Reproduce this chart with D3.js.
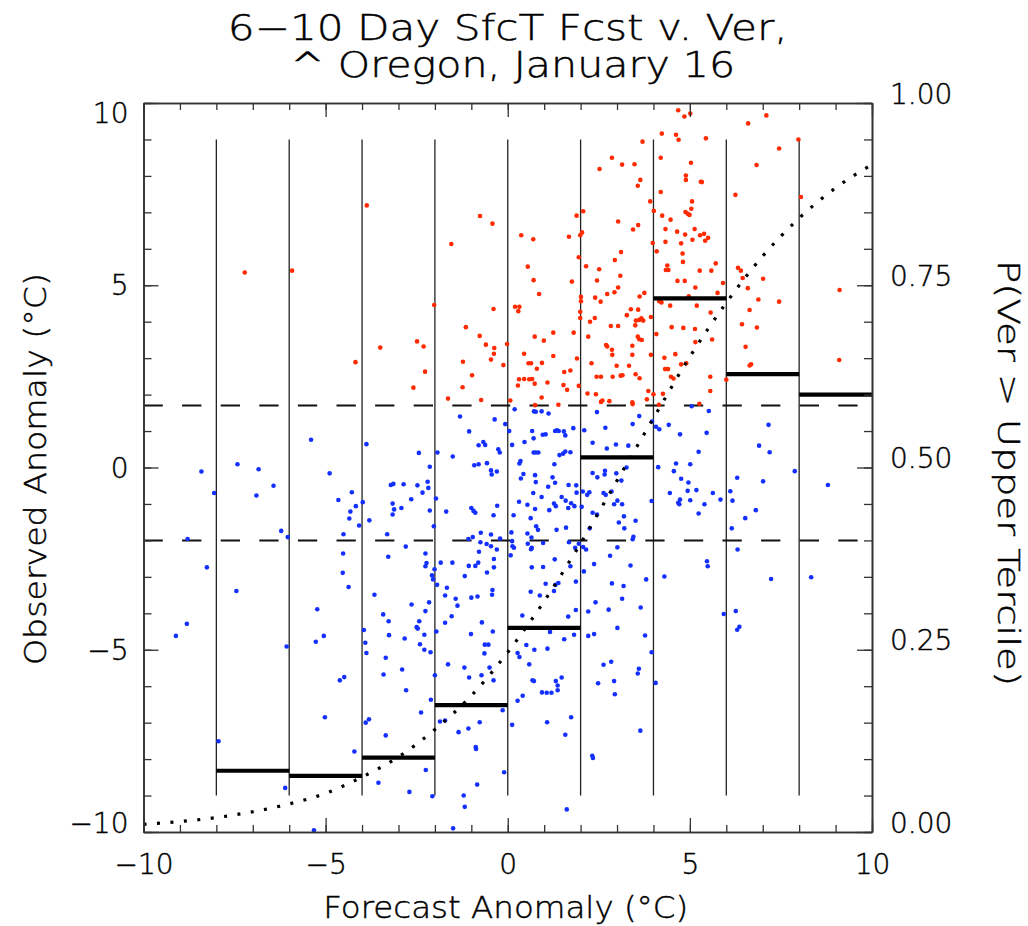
<!DOCTYPE html>
<html>
<head>
<meta charset="utf-8">
<script src="https://cdn.jsdelivr.net/npm/d3@7"></script>
<style>
  html, body { margin: 0; padding: 0; background: #fff; }
  svg text { font-family: "DejaVu Sans", sans-serif; font-weight: 200; fill: #000; stroke: #000; stroke-width: 0.45px; }
</style>
</head>
<body>
<svg id="chart" width="1028" height="926"></svg>
<script>
// Observations above the upper tercile (forecast anomaly, observed anomaly), °C
const warmObs = [
  [-7.22,5.35],[-5.92,5.40],[-3.87,7.19],[-4.18,2.89],[-3.50,3.29],[-0.76,6.90],[-0.42,6.69],[-1.55,6.13],
  [-2.02,4.46],[-0.39,4.35],[-1.15,3.85],[-0.77,3.61],[-2.49,3.46],[-2.31,3.32],[-0.60,3.37],[-0.37,3.28],
  [-0.38,3.12],[-0.02,3.39],[-0.46,2.96],[-1.23,2.90],[-0.12,2.81],[-2.27,2.63],[-0.98,2.53],[-2.59,2.19],
  [-1.24,2.20],[-1.64,1.89],[-0.73,1.85],
  [4.68,9.80],[4.85,9.63],[5.01,9.71],[7.10,9.66],[6.60,9.44],[4.23,9.16],[4.62,9.13],[4.69,8.99],[5.44,9.03],
  [3.70,8.94],[7.45,8.75],[7.98,9.00],[6.83,8.30],[4.20,8.50],[2.86,8.50],[2.52,8.19],[3.14,8.31],[3.48,8.32],
  [5.03,8.36],[4.89,8.01],[4.89,7.89],[3.64,7.89],[3.57,7.73],[5.30,7.84],[5.33,7.83],[4.20,7.56],[6.25,7.48],
  [8.05,7.42],[3.91,7.30],[4.01,7.04],[5.06,7.30],[5.04,7.10],[4.88,7.01],[4.94,6.96],[4.99,6.93],[4.24,6.91],
  [4.47,6.80],[1.89,6.91],[2.07,7.03],[3.03,6.75],[0.37,6.37],[0.70,6.26],[1.68,6.33],[1.99,6.37],[2.04,6.45],
  [3.58,6.65],[3.44,6.53],[4.33,6.54],[4.65,6.47],[4.87,6.39],[5.13,6.54],[5.28,6.37],[5.39,6.41],[5.50,6.30],
  [5.42,6.22],[5.07,6.25],[4.33,6.19],[4.76,6.15],[3.98,6.16],[4.09,5.93],[4.80,5.87],[4.81,5.64],[3.11,5.91],
  [2.94,5.69],[1.95,5.77],[0.55,5.51],[0.71,5.14],[0.86,4.76],[1.76,5.10],[2.15,5.52],[2.51,5.44],[2.45,5.13],
  [3.09,5.26],[3.03,4.94],[2.93,4.81],[2.73,4.76],[2.40,4.66],[2.55,4.55],[2.01,4.68],[2.01,4.56],[1.99,4.27],
  [1.99,4.10],[2.26,4.00],[2.39,4.10],[2.21,3.59],[1.81,3.70],[1.25,3.70],[0.74,3.59],[0.99,3.48],[0.45,3.12],
  [0.57,2.86],[0.64,2.86],[0.94,2.87],[0.80,2.71],[0.31,2.42],[0.45,2.43],[0.59,2.42],[0.67,2.43],[0.74,2.30],
  [1.09,2.33],[0.28,2.25],[0.93,1.92],[0.07,1.84],[0.75,1.71],[1.39,1.72],[1.25,3.06],[1.53,2.26],[1.63,2.13],
  [1.55,2.62],[1.72,2.66],[1.90,2.99],[1.95,2.24],[2.19,2.03],[2.30,2.86],[2.44,2.49],[2.56,2.49],[2.56,1.80],
  [2.60,1.84],[2.42,2.01],[2.79,1.82],[2.70,3.36],[2.73,3.32],[2.83,3.88],[3.03,3.88],[2.86,3.23],[2.87,3.09],
  [2.99,2.79],[2.88,2.49],[3.10,2.52],[3.15,2.53],[3.27,4.18],[3.38,4.34],[3.58,4.33],[3.52,4.03],[3.61,4.05],
  [3.67,4.09],[3.72,4.03],[3.50,3.90],[3.57,3.59],[3.61,3.52],[3.68,3.50],[3.42,3.34],[3.33,2.79],[3.42,3.09],
  [3.51,2.56],[3.62,2.45],[3.62,4.69],[3.75,4.79],[3.93,4.13],[3.93,3.09],[3.86,2.10],[3.82,1.87],[3.42,1.79],
  [3.43,1.74],[4.00,2.01],[4.26,2.02],[4.15,1.72],[4.08,3.66],[4.30,3.01],[4.32,2.70],[4.40,2.70],[4.48,2.49],
  [4.55,2.44],[4.50,3.85],[4.60,3.11],[4.76,2.83],[4.82,3.83],[5.14,3.80],[4.90,2.86],[5.15,3.44],[4.16,4.56],
  [4.22,4.53],[4.46,4.44],[5.19,4.44],[4.38,5.54],[4.34,5.42],[4.41,5.42],[4.66,5.12],[4.86,5.12],[4.97,4.70],
  [5.15,4.94],[5.27,5.40],[5.59,5.40],[5.71,5.60],[5.76,4.79],[5.91,5.06],[5.57,4.25],[5.61,3.51],[5.56,2.49],
  [5.56,2.10],[5.26,1.75],[6.00,2.41],[6.32,5.48],[6.45,5.20],[6.40,5.40],[6.59,4.92],[6.64,4.32],[6.43,3.93],
  [6.53,3.31],[6.64,2.80],[6.68,2.83],[6.84,3.84],[6.88,4.61],[7.01,5.18],[7.45,4.55],[9.11,4.87],[9.10,2.95],
  [0.20,4.41],[0.32,4.41],[0.29,4.29]
];

// Remaining observations (at or below the upper tercile)
const otherObs = [
  [-1.31,1.40],[-0.36,1.32],[-1.06,0.99],[-0.07,1.19],[-5.40,0.76],[-3.88,0.64],[-0.80,0.61],[-0.67,0.70],
  [-0.62,0.62],[-2.44,0.40],[-1.93,0.41],[-0.26,0.50],[-0.22,0.41],[-1.51,0.30],
  [-7.42,0.09],[-8.41,-0.11],[-6.84,-0.05],[-6.43,-0.50],[-6.90,-0.77],[-8.06,-0.70],[-4.89,-0.16],[-4.65,-0.89],
  [-4.28,-0.68],[-4.32,-1.21],[-4.17,-1.06],[-4.35,-1.40],[-4.08,-1.59],[-4.51,-1.83],[-3.98,-0.95],[-3.80,-1.45],
  [-3.21,-0.48],[-3.14,-0.45],[-2.86,-0.46],[-2.48,-0.49],[-2.20,-0.39],[-2.14,0.02],[-2.18,-0.56],[-2.34,-0.69],
  [-2.65,-0.87],[-3.16,-0.99],[-3.12,-1.15],[-3.16,-1.29],[-2.92,-1.11],[-2.14,-1.18],[-1.97,-0.85],[-2.03,-1.61],
  [-1.69,-1.21],[-3.31,-1.83],[-0.92,0.06],[-0.80,0.09],[-0.57,0.12],[-0.46,-0.08],[-0.44,-0.19],[-0.30,-0.11],
  [-1.00,-1.11],[-0.94,-1.19],[-0.89,-1.24],[-0.29,-1.05],[-0.39,-1.31],[-8.79,-1.96],[-6.22,-1.74],[-6.04,-1.91],
  [-8.26,-2.74],[-7.45,-3.39],[-8.81,-4.29],[-9.11,-4.62],[-6.07,-4.91],[-7.94,-7.51],[-6.11,-8.79],[-5.32,-9.95],
  [-4.52,-2.36],[-4.53,-2.89],[-4.37,-3.28],[-5.23,-3.89],[-5.27,-4.78],[-5.05,-4.62],[-4.61,-5.84],[-4.49,-5.75],
  [-5.02,-6.85],[-4.21,-7.79],[-2.80,-2.17],[-3.28,-2.45],[-3.66,-3.49],[-3.42,-4.03],[-3.27,-4.22],[-3.26,-4.60],
  [-3.95,-4.46],[-3.91,-4.81],[-3.88,-5.09],[-3.35,-5.22],[-3.41,-5.68],[-2.83,-4.69],[-2.90,-5.54],[-2.79,-6.11],
  [-2.64,-3.76],[-2.43,-4.22],[-2.50,-4.38],[-2.47,-4.42],[-2.26,-3.94],[-2.16,-3.70],[-2.41,-4.85],[-2.29,-4.59],
  [-2.29,-5.00],[-2.12,-5.07],[-2.38,-6.72],[-2.11,-6.37],[-2.25,-8.30],[-2.70,-8.90],[-2.07,-9.02],[-3.90,-7.00],
  [-3.81,-6.91],[-3.35,-7.35],[-3.55,-8.65],[-2.26,-2.36],[-2.23,-2.62],[-2.26,-2.71],[-2.01,-2.79],[-2.08,-2.96],
  [-2.05,-3.07],[-1.84,-2.61],[-1.52,-2.61],[-1.94,-3.22],[-1.67,-3.30],[-1.72,-3.51],[-1.43,-3.60],[-1.38,-3.79],
  [-1.54,-4.08],[-1.72,-4.26],[-1.96,-4.50],[-2.00,-5.70],[-1.64,-5.40],[-1.86,-6.97],[-1.72,-6.94],[-1.35,-7.26],
  [-1.21,-9.00],[-1.18,-9.31],[-1.50,-9.90],[-1.08,-7.16],[-0.88,-7.67],[-0.87,-7.72],[-0.84,-8.70],[-0.77,-6.99],
  [-1.19,-5.49],[-1.06,-5.76],[-1.01,-4.57],[-1.18,-2.98],[-1.07,-2.70],[-1.00,-3.57],[-0.89,-2.70],[-0.83,-3.54],
  [-0.81,-2.61],[-0.79,-2.31],[-0.75,-2.05],[-1.08,-1.96],[-0.96,-1.91],[-0.74,-1.79],[-0.58,-2.10],[-0.46,-1.84],
  [-0.46,-2.16],[-0.21,-1.95],[-0.30,-2.25],[-0.38,-2.51],[-0.38,-2.74],[-0.57,-2.88],[-0.42,-3.36],[-0.43,-3.49],
  [-0.71,-4.25],[-0.41,-4.50],[-0.63,-4.86],[-0.53,-4.86],[-0.64,-5.10],[-0.50,-5.49],[-0.39,-5.84],[-0.72,-5.70],
  [-0.14,-6.66],[-0.10,-8.36],
  [0.19,1.60],[0.04,1.00],[0.12,0.62],[0.46,0.70],[0.71,0.80],[0.72,1.54],[0.77,1.53],[0.93,1.54],[1.12,1.48],
  [0.67,1.00],[0.96,0.90],[1.04,0.91],[1.30,1.00],[1.35,1.02],[1.40,1.00],[1.54,0.99],[1.58,0.88],[1.80,1.08],
  [2.10,1.02],[2.45,1.52],[2.68,1.09],[2.33,0.68],[2.72,0.52],[2.97,0.63],[3.31,0.60],[3.61,1.41],[3.43,1.19],
  [3.96,1.26],[4.07,1.12],[4.16,1.05],[4.42,1.17],[5.05,1.68],[5.52,1.55],[4.73,0.91],[5.46,0.95],[5.24,0.43],
  [6.90,0.60],[7.19,0.42],[7.16,1.17],[0.71,0.41],[0.77,0.41],[0.84,0.41],[1.42,0.34],[1.58,0.44],[1.72,0.42],
  [1.52,0.38],
  [0.32,0.11],[0.35,0.18],[1.28,0.09],[0.36,-0.30],[0.43,-0.18],[0.75,-0.21],[0.77,-0.40],[1.23,-0.27],[1.30,-0.42],
  [1.11,-0.53],[0.70,-0.70],[0.93,-0.81],[0.31,-0.94],[0.54,-1.02],[0.75,-1.14],[1.14,-1.17],[1.27,-0.99],[1.32,-1.06],
  [1.48,-0.81],[1.59,-0.91],[1.67,-0.48],[1.88,-0.49],[1.89,-0.69],[1.66,-1.11],[1.83,-1.06],[1.74,-0.98],[0.16,-1.31],
  [0.63,-1.39],[0.78,-1.61],[0.83,-1.71],[1.34,-1.71],[1.60,-1.65],[0.10,-1.78],[0.54,-1.81],[0.65,-1.92],[0.55,-2.09],
  [0.66,-2.20],[0.64,-2.24],[0.97,-2.07],[0.12,-2.02],[0.13,-2.16],[0.17,-2.20],[0.08,-2.41],[1.68,-2.05],[1.85,-2.20],
  [1.95,-2.09],[1.29,-2.52],[0.66,-2.74],[0.97,-2.73],[1.72,-2.71],[1.87,-3.13],[1.39,-3.17],[1.31,-3.22],[1.04,-3.19],
  [1.27,-3.39],[0.63,-3.41],[0.88,-3.51],[0.40,-4.06],[1.66,-4.09],[1.87,-3.91],[1.82,-4.59],[1.55,-4.71],[1.16,-4.51],
  [0.51,-4.87],[0.27,-5.09],[0.32,-5.20],[0.73,-5.00],[1.09,-4.97],[0.59,-5.40],[0.68,-5.84],[0.72,-5.86],[1.32,-5.86],
  [1.48,-5.76],[1.37,-5.98],[1.37,-6.11],[0.94,-6.17],[1.07,-6.18],[1.20,-6.18],[0.41,-6.26],[0.27,-6.40],[0.12,-7.06],
  [1.08,-6.99],[1.74,-6.85],[1.58,-7.33],[1.62,-9.38],
  [2.33,-0.15],[2.46,-0.27],[2.67,-0.09],[2.66,-0.19],[2.98,-0.16],[3.12,-0.36],[3.26,0.00],[2.06,-0.66],[2.18,-0.75],
  [2.24,-0.68],[2.63,-0.70],[2.69,-0.75],[2.85,-0.66],[3.01,-0.91],[2.92,-1.01],[3.14,-1.01],[2.03,-1.08],[2.33,-1.24],
  [2.45,-1.29],[3.19,-1.34],[3.05,-1.51],[3.20,-1.67],[3.51,-1.46],[2.25,-1.67],[3.45,-1.90],[3.43,-1.97],[2.07,-2.18],
  [2.15,-2.25],[3.01,-2.19],[2.81,-2.42],[2.37,-2.65],[2.09,-2.85],[2.86,-3.18],[3.18,-3.25],[3.37,-2.69],[3.80,-3.07],
  [3.14,-3.60],[2.41,-3.70],[2.77,-3.90],[2.21,-3.95],[3.65,-3.84],[3.01,-4.40],[2.37,-4.57],[2.21,-4.62],[3.77,-4.61],
  [3.95,-5.07],[2.63,-5.41],[2.84,-5.33],[3.60,-5.52],[3.57,-5.65],[2.48,-5.92],[2.92,-5.86],[2.94,-6.22],[4.06,-5.91],
  [3.64,-7.22],[2.32,-7.91],[2.34,-7.97],
  [4.13,0.01],[4.62,0.11],[5.01,0.09],[4.56,-0.10],[4.76,-0.31],[4.96,-0.41],[4.45,-0.70],[4.73,-0.88],[4.68,-0.97],
  [4.71,-1.01],[4.94,-0.64],[5.01,-0.90],[5.18,-0.62],[5.40,-1.01],[5.24,-1.26],[5.63,-0.70],[5.84,-0.88],[3.95,-0.92],
  [4.30,-2.99],[5.47,-2.57],[5.49,-2.71],[5.93,-4.02],
  [6.11,-0.65],[6.17,-0.91],[6.30,-0.28],[6.15,-1.67],[6.52,-1.39],[6.81,-1.17],[7.01,-0.38],[6.31,-2.25],[6.26,-3.94],
  [6.30,-4.45],[6.36,-4.37],[7.23,-3.06],
  [7.88,-0.10],[8.79,-0.48],[8.33,-3.01]
];

// Forecast bins and the fraction of verifying obs above the upper tercile in each
const binEdges = [-8, -6, -4, -2, 0, 2, 4, 6, 8, 10];
const binUpperFrac = [0.084, 0.077, 0.102, 0.174, 0.280, 0.514, 0.732, 0.628, 0.600];

// Bin separators drawn as vertical guides
const binGuides = [-8, -6, -4, -2, 0, 2, 4, 6, 8];
const guideSpan = [-9, 9];

// Tercile boundaries of the observed anomaly
const terciles = [1.7, -2.0];

// Fitted probability of exceeding the upper tercile, by forecast anomaly
const fitX = [-10,-9,-8,-7,-6,-5,-4,-3,-2,-1,0,1,2,3,4,5,6,7,8,9,10];
const fitP = [0.0106,0.0144,0.0198,0.0278,0.0385,0.053,0.0754,0.103,0.1406,0.187,0.2466,
              0.3166,0.396,0.482,0.5676,0.652,0.726,0.790,0.842,0.8835,0.9156];

// Axis ticks and labels
const xMajor = [-10, -5, 0, 5, 10];
const xMajorLabels = ["\u221210", "\u22125", "0", "5", "10"];
const yMajor = [-10, -5, 0, 5, 10];
const yMajorLabels = ["\u221210", "\u22125", "0", "5", "10"];
const pMajor = [0, 0.25, 0.5, 0.75, 1];
const pMajorLabels = ["0.00", "0.25", "0.50", "0.75", "1.00"];

const titleLines = ["6\u221210 Day SfcT Fcst v. Ver,", "^ Oregon, January 16"];
const xTitle = "Forecast Anomaly (\u00b0C)";
const yTitle = "Observed Anomaly (\u00b0C)";
const pTitle = "P(Ver > Upper Tercile)";

// ---------------------------------------------------------------
const svg = d3.select("#chart");
const L = 143.5, R = 872, T = 103, B = 832;
const x = d3.scaleLinear().domain([-10, 10]).range([L, R]);
const y = d3.scaleLinear().domain([-10, 10]).range([B, T]);
const p = d3.scaleLinear().domain([0, 1]).range([B, T]);
const axisColor = "#333";
const FONT = "DejaVu Sans";

svg.append("rect").attr("width", 1028).attr("height", 926).attr("fill", "#fff");

// vertical bin guides
svg.append("g").selectAll("line").data(binGuides).join("line")
  .attr("x1", d => x(d)).attr("x2", d => x(d))
  .attr("y1", y(guideSpan[0])).attr("y2", y(guideSpan[1]))
  .attr("stroke", "#222").attr("stroke-width", 1.3);

// tercile lines
svg.append("g").selectAll("line").data(terciles).join("line")
  .attr("x1", x(-10)).attr("x2", x(10))
  .attr("y1", d => y(d)).attr("y2", d => y(d))
  .attr("stroke", "#111").attr("stroke-width", 2)
  .attr("stroke-dasharray", "19.3 19.3");

// observations
svg.append("g").selectAll("circle").data(otherObs).join("circle")
  .attr("cx", d => x(d[0])).attr("cy", d => y(d[1])).attr("r", 2.3)
  .attr("fill", "#1430ff");
svg.append("g").selectAll("circle").data(warmObs).join("circle")
  .attr("cx", d => x(d[0])).attr("cy", d => y(d[1])).attr("r", 2.3)
  .attr("fill", "#ff2a00");

// fitted probability curve (right axis)
const fit = fitX.map((v, i) => [v, fitP[i]]);
svg.append("path").datum(fit)
  .attr("d", d3.line().x(d => x(d[0])).y(d => p(d[1])).curve(d3.curveMonotoneX))
  .attr("fill", "none").attr("stroke", "#000").attr("stroke-width", 3.2)
  .attr("stroke-dasharray", "3 10.5");

// binned fractions (right axis)
svg.append("g").selectAll("line").data(binUpperFrac).join("line")
  .attr("x1", (d, i) => x(binEdges[i])).attr("x2", (d, i) => x(binEdges[i + 1]))
  .attr("y1", d => p(d)).attr("y2", d => p(d))
  .attr("stroke", "#000").attr("stroke-width", 4.2);

// axes
function styleAxis(g) {
  g.selectAll(".domain").attr("stroke", axisColor).attr("stroke-width", 1.6);
  g.selectAll(".tick line").attr("stroke", axisColor).attr("stroke-width", 1.3);
  g.selectAll("text").attr("font-family", FONT).attr("font-weight", 200)
    .attr("font-size", 28).attr("fill", "#000");
}
const unitTicks = d3.range(-10, 10.001, 1);
const pMinor = d3.range(0, 1.0001, 0.05);

// bottom
svg.append("g").attr("transform", `translate(0,${B})`)
  .call(d3.axisBottom(x).tickValues(unitTicks).tickSize(-7).tickSizeOuter(0).tickFormat(""))
  .call(styleAxis);
svg.append("g").attr("transform", `translate(0,${B})`)
  .call(d3.axisBottom(x).tickValues(xMajor).tickSize(-14).tickSizeOuter(0).tickPadding(22)
    .tickFormat((d, i) => xMajorLabels[i]))
  .call(styleAxis);
// top
svg.append("g").attr("transform", `translate(0,${T})`)
  .call(d3.axisTop(x).tickValues(unitTicks).tickSize(-7).tickSizeOuter(0).tickFormat(""))
  .call(styleAxis);
svg.append("g").attr("transform", `translate(0,${T})`)
  .call(d3.axisTop(x).tickValues(xMajor).tickSize(-14).tickSizeOuter(0).tickFormat(""))
  .call(styleAxis);
// left
svg.append("g").attr("transform", `translate(${L},0)`)
  .call(d3.axisLeft(y).tickValues(unitTicks).tickSize(-8).tickSizeOuter(0).tickFormat(""))
  .call(styleAxis);
const leftMajor = svg.append("g").attr("transform", `translate(${L},0)`)
  .call(d3.axisLeft(y).tickValues(yMajor).tickSize(-15).tickSizeOuter(0).tickPadding(15)
    .tickFormat((d, i) => yMajorLabels[i]))
  .call(styleAxis);
leftMajor.selectAll(".tick text")
  .attr("dy", d => d === 10 ? "0.68em" : d === -10 ? "0.0em" : "0.34em");
// right
svg.append("g").attr("transform", `translate(${R},0)`)
  .call(d3.axisRight(p).tickValues(pMinor).tickSize(-8).tickSizeOuter(0).tickFormat(""))
  .call(styleAxis);
const rightMajor = svg.append("g").attr("transform", `translate(${R},0)`)
  .call(d3.axisRight(p).tickValues(pMajor).tickSize(-15).tickSizeOuter(0).tickPadding(18)
    .tickFormat((d, i) => pMajorLabels[i]))
  .call(styleAxis);
rightMajor.selectAll(".tick text").attr("dy", "0em");

// titles
const cx = (L + R) / 2;
svg.append("text").attr("x", cx).attr("y", 40).attr("text-anchor", "middle")
  .attr("font-size", 35).attr("textLength", 560).attr("lengthAdjust", "spacingAndGlyphs")
  .text(titleLines[0]);
svg.append("text").attr("x", cx + 5).attr("y", 77).attr("text-anchor", "middle")
  .attr("font-size", 35).attr("textLength", 445).attr("lengthAdjust", "spacingAndGlyphs")
  .text(titleLines[1]);

svg.append("text").attr("x", cx - 2).attr("y", 918).attr("text-anchor", "middle")
  .attr("font-size", 31).attr("textLength", 365).attr("lengthAdjust", "spacingAndGlyphs")
  .text(xTitle);

svg.append("text").attr("transform", "translate(46,469) rotate(-90)")
  .attr("text-anchor", "middle")
  .attr("font-size", 31).attr("textLength", 392).attr("lengthAdjust", "spacingAndGlyphs")
  .text(yTitle);

svg.append("text").attr("transform", "translate(998,473) rotate(90)")
  .attr("text-anchor", "middle")
  .attr("font-size", 31).attr("textLength", 426).attr("lengthAdjust", "spacingAndGlyphs")
  .text(pTitle);
</script>
</body>
</html>
